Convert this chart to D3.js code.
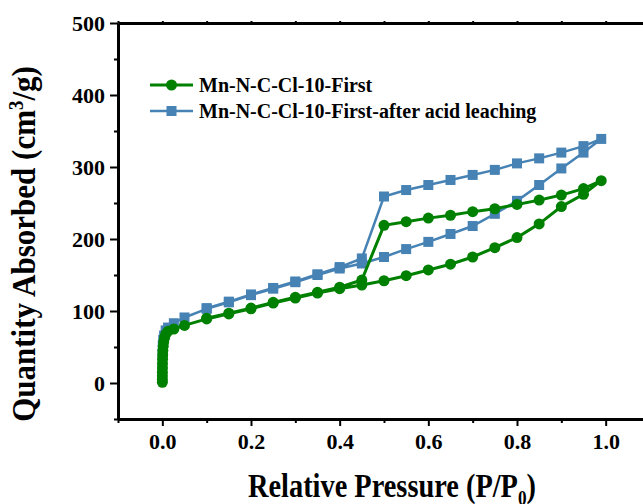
<!DOCTYPE html>
<html>
<head>
<meta charset="utf-8">
<script src="https://cdn.jsdelivr.net/npm/d3@7"></script>
<style>
  html, body { margin: 0; padding: 0; background: #fff; }
  svg { display: block; font-family: "Liberation Serif", "Times New Roman", serif; font-weight: bold; }
  .tick text { font-family: "Liberation Serif", serif; font-weight: bold; font-size: 22px; fill: #000; }
</style>
</head>
<body>
<svg id="chart" width="643" height="504"></svg>
<script>
// N2 isotherms, adsorption then desorption branch (P/P0, cm3/g)
const greenP = [0.00001, 0.00003, 0.00006, 0.0001, 0.0002, 0.0003, 0.0005, 0.0008, 0.0012, 0.002, 0.003, 0.005, 0.008, 0.013,
  0.026, 0.05, 0.1, 0.15, 0.2, 0.25, 0.3, 0.35, 0.4, 0.45, 0.5, 0.55, 0.6, 0.65, 0.7, 0.75, 0.8, 0.85, 0.9, 0.95, 0.99,
  0.95, 0.9, 0.85, 0.8, 0.75, 0.7, 0.65, 0.6, 0.55, 0.5, 0.45, 0.4, 0.35, 0.3, 0.25, 0.2, 0.15, 0.1];
const greenV = [1, 5, 10, 15, 21, 27, 33, 39, 45, 51, 57, 63, 68, 72,
  75, 80, 89, 96, 103, 111, 118, 125, 131, 136, 142, 149, 157, 165, 175, 188, 202, 221, 245, 262, 281,
  270, 261, 254, 248, 242, 238, 233, 229, 224, 219, 143, 133, 126, 119, 112, 104, 97, 90];

const blueP = [0.0005, 0.001, 0.002, 0.004, 0.0075, 0.013, 0.026, 0.05, 0.1, 0.15, 0.2, 0.25, 0.3, 0.35, 0.4, 0.45, 0.5,
  0.55, 0.6, 0.65, 0.7, 0.75, 0.8, 0.85, 0.9, 0.95, 0.99,
  0.95, 0.9, 0.85, 0.8, 0.75, 0.7, 0.65, 0.6, 0.55, 0.5, 0.45, 0.4, 0.35, 0.3, 0.25, 0.2, 0.15, 0.1];
const blueV = [40, 52, 60, 66, 73, 77, 83, 91, 103, 112, 122, 131, 140, 150, 159, 166, 175,
  186, 196, 207, 218, 235, 253, 275, 298, 320, 339,
  329, 320, 312, 305, 296, 289, 282, 275, 268, 259, 173, 161, 151, 141, 132, 123, 113, 104];

const seriesNames = ['Mn-N-C-Cl-10-First', 'Mn-N-C-Cl-10-First-after acid leaching'];
const xTicks = [0, 0.2, 0.4, 0.6, 0.8, 1.0];
const yTicks = [0, 100, 200, 300, 400, 500];

const GREEN = '#008000';
const BLUE = '#4682B4';

const svg = d3.select('#chart');
const plotLeft = 118, plotRight = 650, plotTop = 23, plotBottom = 419;

const x = d3.scaleLinear().domain([-0.1, 1.1]).range([plotLeft, plotRight]);
const y = d3.scaleLinear().domain([-50, 500]).range([plotBottom, plotTop]);

// minor ticks
const xMinor = d3.range(-0.1, 1.11, 0.1).map(v => +v.toFixed(2)).filter(v => !xTicks.includes(v));
const yMinor = d3.range(-50, 501, 100);

const axisG = svg.append('g');

function styleAxis(g) {
    g.select('.domain').attr('stroke', '#000').attr('stroke-width', 3);
    g.selectAll('.tick line').attr('stroke', '#000').attr('stroke-width', 2);
}

axisG.append('g')
    .attr('transform', `translate(0,${plotBottom})`)
    .call(d3.axisBottom(x).tickValues(xMinor).tickSize(4).tickSizeOuter(0).tickFormat(''))
    .call(styleAxis);
axisG.append('g')
    .attr('transform', `translate(0,${plotBottom})`)
    .call(d3.axisBottom(x).tickValues(xTicks).tickSize(7).tickSizeOuter(0).tickPadding(7).tickFormat(d3.format('.1f')))
    .call(styleAxis);

axisG.append('g')
    .attr('transform', `translate(${plotLeft},0)`)
    .call(d3.axisLeft(y).tickValues(yMinor).tickSize(4).tickSizeOuter(0).tickFormat(''))
    .call(styleAxis);
axisG.append('g')
    .attr('transform', `translate(${plotLeft},0)`)
    .call(d3.axisLeft(y).tickValues(yTicks).tickSize(8).tickSizeOuter(0).tickPadding(5))
    .call(styleAxis);

// top border
axisG.append('g')
    .attr('transform', `translate(0,${plotTop})`)
    .call(d3.axisTop(x).tickValues(d3.range(-0.1, 1.11, 0.1)).tickSize(2).tickSizeOuter(0).tickFormat(''))
    .call(styleAxis);

const lineGen = d3.line().x(d => x(d[0])).y(d => y(d[1]));

const blueData = blueP.map((p, i) => [p, blueV[i]]);
const greenData = greenP.map((p, i) => [p, greenV[i]]);

const plot = svg.append('g');

plot.append('path')
    .datum(blueData)
    .attr('fill', 'none')
    .attr('stroke', BLUE)
    .attr('stroke-width', 2.5)
    .attr('d', lineGen);
plot.selectAll('.sq')
    .data(blueData)
    .enter()
    .append('rect')
    .attr('class', 'sq')
    .attr('x', d => x(d[0]) - 5)
    .attr('y', d => y(d[1]) - 5)
    .attr('width', 10)
    .attr('height', 10)
    .attr('fill', BLUE);

plot.append('path')
    .datum(greenData)
    .attr('fill', 'none')
    .attr('stroke', GREEN)
    .attr('stroke-width', 3)
    .attr('d', lineGen);
plot.selectAll('.dot')
    .data(greenData)
    .enter()
    .append('circle')
    .attr('class', 'dot')
    .attr('cx', d => x(d[0]))
    .attr('cy', d => y(d[1]))
    .attr('r', 5.5)
    .attr('fill', GREEN);

// legend
const legend = svg.append('g').attr('transform', 'translate(150,85)');
const legendItems = [
    { name: seriesNames[0], color: GREEN, shape: 'circle', width: 3 },
    { name: seriesNames[1], color: BLUE, shape: 'square', width: 2.5 },
];
legendItems.forEach((item, i) => {
    const g = legend.append('g').attr('transform', `translate(0,${i * 26})`);
    g.append('line')
        .attr('x1', 0).attr('x2', 43)
        .attr('y1', 0).attr('y2', 0)
        .attr('stroke', item.color)
        .attr('stroke-width', item.width);
    if (item.shape === 'circle') {
        g.append('circle').attr('cx', 21.5).attr('cy', 0).attr('r', 5.5).attr('fill', item.color);
    } else {
        g.append('rect').attr('x', 16.5).attr('y', -5).attr('width', 10).attr('height', 10).attr('fill', item.color);
    }
    g.append('text')
        .attr('x', 49)
        .attr('y', 7)
        .attr('font-size', 20)
        .text(item.name);
});

// axis titles (glyphs in the source are narrower than Liberation Serif, so squeeze a bit)
const xt = svg.append('text')
    .attr('transform', 'translate(392,497) scale(0.86,1)')
    .attr('text-anchor', 'middle')
    .attr('font-size', 33);
xt.append('tspan').text('Relative Pressure (P/P');
xt.append('tspan').attr('font-size', 20).attr('dy', 8).text('0');
xt.append('tspan').attr('dy', -8).text(')');

const yt = svg.append('text')
    .attr('transform', 'translate(35,244) rotate(-90) scale(0.94,1)')
    .attr('text-anchor', 'middle')
    .attr('font-size', 33);
yt.append('tspan').text('Quantity Absorbed (cm');
yt.append('tspan').attr('font-size', 20).attr('dy', -12).text('3');
yt.append('tspan').attr('dy', 12).text('/g)');
</script>
</body>
</html>
